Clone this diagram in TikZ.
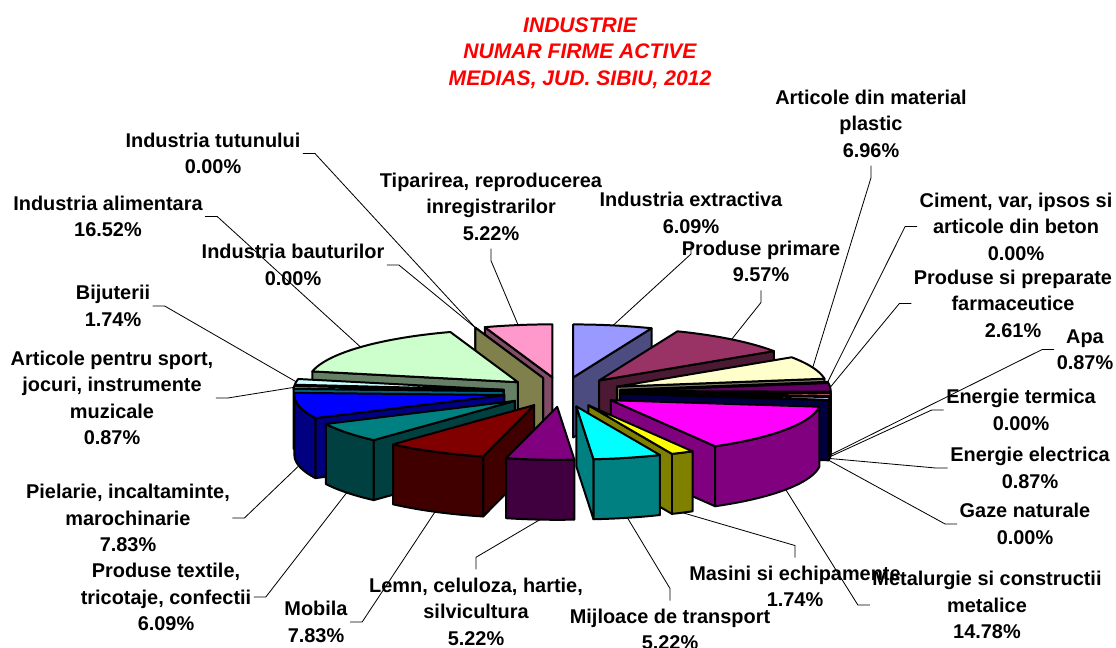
\documentclass[tikz,border=0pt]{standalone}
\usepackage{fontspec}
\setmainfont{Liberation Sans}
\usepackage{tikz}
\usepackage{xcolor}
\definecolor{xlperiwinkle}{RGB}{153,153,255}
\definecolor{xlplum}{RGB}{153,51,102}
\definecolor{xlivory}{RGB}{255,255,204}
\definecolor{xlturquoise}{RGB}{204,255,255}
\definecolor{xldarkpurple}{RGB}{102,0,102}
\definecolor{xlcoral}{RGB}{255,128,128}
\definecolor{xlocean}{RGB}{0,102,204}
\definecolor{xllavender}{RGB}{204,204,255}
\definecolor{xlnavy}{RGB}{0,0,128}
\definecolor{xlmagenta}{RGB}{255,0,255}
\definecolor{xlyellow}{RGB}{255,255,0}
\definecolor{xlcyan}{RGB}{0,255,255}
\definecolor{xlpurple}{RGB}{128,0,128}
\definecolor{xldarkred}{RGB}{128,0,0}
\definecolor{xlteal}{RGB}{0,128,128}
\definecolor{xlblue}{RGB}{0,0,255}
\definecolor{xlsky}{RGB}{0,204,255}
\definecolor{xlpaleturq}{RGB}{204,255,255}
\definecolor{xlpalegreen}{RGB}{204,255,204}
\definecolor{xllightyellow}{RGB}{255,255,153}
\definecolor{xlpaleblue}{RGB}{153,204,255}
\definecolor{xlrose}{RGB}{255,153,204}
\tikzstyle{pieface} = [draw=black, line width=1.7pt, line join=round]
\tikzstyle{catlabel} = [align=center, font=\fontsize{17}{22.6}\selectfont\bfseries, inner xsep=2pt, inner ysep=7pt]
\tikzstyle{leader} = [draw=black, line width=0.7pt]
\tikzstyle{charttitle} = [align=center, text=red, font=\fontsize{18}{22.6}\selectfont\bfseries\itshape]

% pie geometry (pixels, y down)
\newcommand{\piecx}{562}
\newcommand{\piecy}{392}
\newcommand{\piex}{210}
\newcommand{\piey}{53}
\newcommand{\pieexp}{0.28}
\newcommand{\piedepth}{60}

% #1 name of leader point, #2 start count, #3 end count (of 115), #4 colour
\newcommand{\pieslice}[4]{%
  \pgfmathsetmacro{\slA}{#2*3.1304348}%
  \pgfmathsetmacro{\slB}{#3*3.1304348}%
  \pgfmathsetmacro{\slM}{(\slA+\slB)/2}%
  \pgfmathsetmacro{\slVx}{\piecx+\pieexp*\piex*sin(\slM)}%
  \pgfmathsetmacro{\slVy}{\piecy-\pieexp*\piey*cos(\slM)}%
  \pgfmathtruncatemacro{\slShow}{sin(\slA) < -0.001}%
  \ifnum\slShow=1
    \filldraw[pieface, fill=#4!50!black] (\slVx,\slVy) -- ({\slVx+\piex*sin(\slA)},{\slVy-\piey*cos(\slA)}) -- ++(0,\piedepth) -- (\slVx,{\slVy+\piedepth}) -- cycle;
  \fi
  \pgfmathtruncatemacro{\slShow}{sin(\slB) > 0.001}%
  \ifnum\slShow=1
    \filldraw[pieface, fill=#4!50!black] (\slVx,\slVy) -- ({\slVx+\piex*sin(\slB)},{\slVy-\piey*cos(\slB)}) -- ++(0,\piedepth) -- (\slVx,{\slVy+\piedepth}) -- cycle;
  \fi
  \pgfmathsetmacro{\slWa}{max(\slA,90)}%
  \pgfmathsetmacro{\slWb}{min(\slB,270)}%
  \pgfmathtruncatemacro{\slShow}{\slWb > \slWa+0.01}%
  \ifnum\slShow=1
    \filldraw[pieface, fill=#4!50!black] plot[domain=\slWa:\slWb, samples=30] ({\slVx+\piex*sin(\x)},{\slVy-\piey*cos(\x)}) -- plot[domain=\slWb:\slWa, samples=30] ({\slVx+\piex*sin(\x)},{\slVy-\piey*cos(\x)+\piedepth}) -- cycle;
  \fi
  \pgfmathtruncatemacro{\slShow}{\slB > \slA+0.01}%
  \ifnum\slShow=1
    \filldraw[pieface, fill=#4] (\slVx,\slVy) -- plot[domain=\slA:\slB, samples=30] ({\slVx+\piex*sin(\x)},{\slVy-\piey*cos(\x)}) -- cycle;
  \fi
  \coordinate (#1) at ({\slVx+\piex*sin(\slM)},{\slVy-\piey*cos(\slM)+(cos(\slM)<0)*\piedepth});
}

\begin{document}
\begin{tikzpicture}[x=0.03cm, y=-0.03cm]
    \fill[white] (0,0) rectangle (1116,648);
    \useasboundingbox (0,0) rectangle (1116,648);

    % Title
    \node[charttitle] (title) at (580,53) {INDUSTRIE\\NUMAR FIRME ACTIVE\\MEDIAS, JUD. SIBIU, 2012};

    % Slices, back to front
    \pieslice{tipar}{109}{115}{xlrose}
    \pieslice{tutun}{109}{109}{xlpaleblue}
    \pieslice{bautur}{109}{109}{xllightyellow}
    \pieslice{extract}{0}{7}{xlperiwinkle}
    \pieslice{aliment}{90}{109}{xlpalegreen}
    \pieslice{primare}{7}{18}{xlplum}
    \pieslice{plastic}{18}{26}{xlivory}
    \pieslice{ciment}{26}{26}{xlturquoise}
    \pieslice{farma}{26}{29}{xldarkpurple}
    \pieslice{apa}{29}{30}{xlcoral}
    \pieslice{termica}{30}{30}{xlocean}
    \pieslice{electrica}{30}{31}{xllavender}
    \pieslice{gaze}{31}{31}{xlnavy}
    \pieslice{bijut}{88}{90}{xlpaleturq}
    \pieslice{sport}{87}{88}{xlsky}
    \pieslice{pielarie}{78}{87}{xlblue}
    \pieslice{metal}{31}{48}{xlmagenta}
    \pieslice{textile}{71}{78}{xlteal}
    \pieslice{masini}{48}{50}{xlyellow}
    \pieslice{mobila}{62}{71}{xldarkred}
    \pieslice{mijloace}{50}{56}{xlcyan}
    \pieslice{lemn}{56}{62}{xlpurple}

    % Labels left and top
    \node[catlabel] (tutun-lb) at (213,153.5) {Industria tutunului\\0.00\%};
    \node[catlabel] (aliment-lb) at (108,216.5) {Industria alimentara\\16.52\%};
    \node[catlabel] (bautur-lb) at (293,265) {Industria bauturilor\\0.00\%};
    \node[catlabel] (tipar-lb) at (491,206.5) {Tiparirea, reproducerea\\inregistrarilor\\5.22\%};
    \node[catlabel] (extract-lb) at (691,213) {Industria extractiva\\6.09\%};
    \node[catlabel] (primare-lb) at (761,261.5) {Produse primare\\9.57\%};
    \node[catlabel] (plastic-lb) at (871,123.5) {Articole din material\\plastic\\6.96\%};
    \node[catlabel] (bijut-lb) at (113,306) {Bijuterii\\1.74\%};
    \node[catlabel] (sport-lb) at (112,398) {Articole pentru sport,\\jocuri, instrumente\\muzicale\\0.87\%};

    % Labels right
    \node[catlabel] (ciment-lb) at (1016,226.5) {Ciment, var, ipsos si\\articole din beton\\0.00\%};
    \node[catlabel] (farma-lb) at (1013,303.5) {Produse si preparate\\farmaceutice\\2.61\%};
    \node[catlabel] (apa-lb) at (1085,349.5) {Apa\\0.87\%};
    \node[catlabel] (termica-lb) at (1021,410) {Energie termica\\0.00\%};
    \node[catlabel] (electrica-lb) at (1030,468) {Energie electrica\\0.87\%};
    \node[catlabel] (gaze-lb) at (1025,524) {Gaze naturale\\0.00\%};
    \node[catlabel] (metal-lb) at (987,605) {Metalurgie si constructii\\metalice\\14.78\%};

    % Labels bottom
    \node[catlabel] (masini-lb) at (795,586.5) {Masini si echipamente\\1.74\%};
    \node[catlabel] (mijloace-lb) at (670,629.5) {Mijloace de transport\\5.22\%};
    \node[catlabel] (lemn-lb) at (476,611.5) {Lemn, celuloza, hartie,\\silvicultura\\5.22\%};
    \node[catlabel] (mobila-lb) at (316,622) {Mobila\\7.83\%};
    \node[catlabel] (textile-lb) at (166,597) {Produse textile,\\tricotaje, confectii\\6.09\%};
    \node[catlabel] (pielarie-lb) at (128,518) {Pielarie, incaltaminte,\\marochinarie\\7.83\%};

    % Leader lines
    \draw[leader] (tutun-lb.east) -- ++(12,0) -- (tutun);
    \draw[leader] (aliment-lb.east) -- ++(12,0) -- (aliment);
    \draw[leader] (bautur-lb.east) -- ++(12,0) -- (bautur);
    \draw[leader] (tipar-lb.south) -- ++(0,12) -- (tipar);
    \draw[leader] (extract-lb.south) -- ++(0,12) -- (extract);
    \draw[leader] (primare-lb.south) -- ++(0,12) -- (primare);
    \draw[leader] (plastic-lb.south) -- ++(0,12) -- (plastic);
    \draw[leader] (bijut-lb.east) -- ++(12,0) -- (bijut);
    \draw[leader] (sport-lb.east) -- ++(12,0) -- (sport);
    \draw[leader] (ciment-lb.west) -- ++(-12,0) -- (ciment);
    \draw[leader] (farma-lb.west) -- ++(-12,0) -- (farma);
    \draw[leader] (apa-lb.west) -- ++(-12,0) -- (apa);
    \draw[leader] (termica-lb.west) -- ++(-12,0) -- (termica);
    \draw[leader] (electrica-lb.west) -- ++(-12,0) -- (electrica);
    \draw[leader] (gaze-lb.west) -- ++(-12,0) -- (gaze);
    \draw[leader] (metal-lb.west) -- ++(-12,0) -- (metal);
    \draw[leader] (masini-lb.north) -- ++(0,-12) -- (masini);
    \draw[leader] (mijloace-lb.north) -- ++(0,-12) -- (mijloace);
    \draw[leader] (lemn-lb.north) -- ++(0,-12) -- (lemn);
    \draw[leader] (mobila-lb.east) -- ++(12,0) -- (mobila);
    \draw[leader] (textile-lb.east) -- ++(12,0) -- (textile);
    \draw[leader] (pielarie-lb.east) -- ++(12,0) -- (pielarie);
\end{tikzpicture}
\end{document}
